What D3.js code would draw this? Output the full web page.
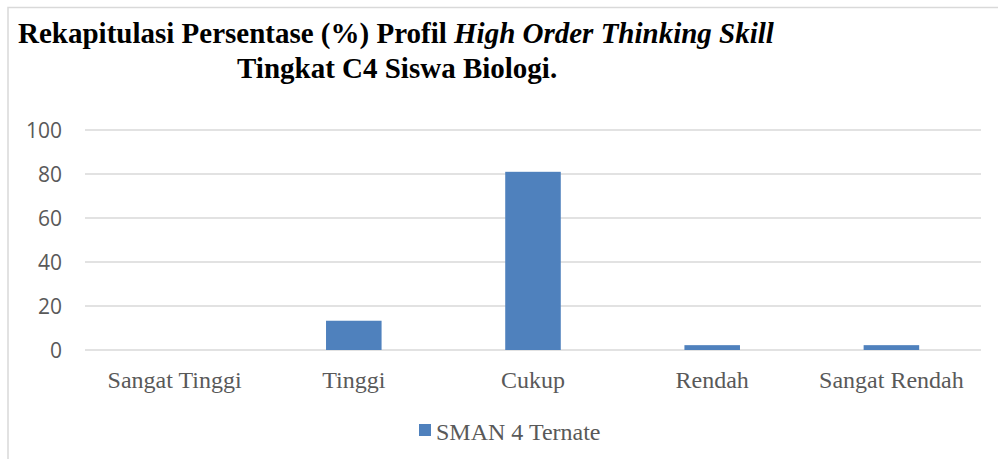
<!DOCTYPE html>
<html>
<head>
<meta charset="utf-8">
<script src="https://cdn.jsdelivr.net/npm/d3@7"></script>
<style>
  body { margin: 0; background: #fff; }
  svg { display: block; }
  .serif { font-family: "Times New Roman", "Liberation Serif", "DejaVu Serif", serif; }
</style>
</head>
<body>
<div class="chart"></div>
<script>
const categories = ['Sangat Tinggi', 'Tinggi', 'Cukup', 'Rendah', 'Sangat Rendah'];
const values = [0, 13.3, 81, 2.2, 2.2];
const yTicks = [0, 20, 40, 60, 80, 100];
const seriesName = 'SMAN 4 Ternate';

const width = 998;
const height = 459;
const margin = {top: 130, right: 17, bottom: 109, left: 85};

const svg = d3.select('.chart')
	.append('svg')
	.attr('width', width)
	.attr('height', height);

// outer frame (only left and top visible)
svg.append('path')
	.attr('d', `M8,${height} L8,7.5 L${width},7.5`)
	.attr('fill', 'none')
	.attr('stroke', '#d9d9d9')
	.attr('stroke-width', 1.5);

// title
const title = svg.append('text')
	.attr('class', 'serif')
	.attr('font-weight', 'bold')
	.attr('font-size', '29px')
	.attr('fill', '#000');
title.append('tspan').attr('x', 18).attr('y', 43).text('Rekapitulasi Persentase (%) Profil ');
title.append('tspan').attr('font-style', 'italic').text('High Order Thinking Skill');
svg.append('text')
	.attr('class', 'serif')
	.attr('x', 237).attr('y', 78)
	.attr('font-weight', 'bold')
	.attr('font-size', '29px')
	.attr('fill', '#000')
	.text('Tingkat C4 Siswa Biologi.');

const x = d3.scaleBand()
	.domain(categories)
	.range([margin.left, width - margin.right])
	.paddingInner(0.69)
	.paddingOuter(0.345);

const y = d3.scaleLinear()
	.domain([0, 100])
	.range([height - margin.bottom, margin.top]);

// gridlines
svg.selectAll('line.grid')
	.data(yTicks)
	.enter()
	.append('line')
	.attr('class', 'grid')
	.attr('x1', margin.left)
	.attr('x2', width - margin.right)
	.attr('y1', d => y(d))
	.attr('y2', d => y(d))
	.attr('stroke', '#d9d9d9')
	.attr('stroke-width', 1.5);

// y labels
svg.selectAll('text.ylab')
	.data(yTicks)
	.enter()
	.append('text')
	.attr('class', 'ylab')
	.attr('x', 62)
	.attr('y', d => y(d))
	.attr('dy', '0.36em')
	.attr('text-anchor', 'end')
	.attr('font-family', '"Open Sans", "Liberation Sans", sans-serif')
	.attr('font-size', '21px')
	.attr('fill', '#595959')
	.text(d => d);

// bars
svg.selectAll('rect.bar')
	.data(values)
	.enter()
	.append('rect')
	.attr('class', 'bar')
	.attr('x', (d, i) => x(categories[i]))
	.attr('y', d => y(d))
	.attr('width', x.bandwidth())
	.attr('height', d => y(0) - y(d))
	.attr('fill', '#4f81bd');

// x labels
svg.selectAll('text.xlab')
	.data(categories)
	.enter()
	.append('text')
	.attr('class', 'xlab serif')
	.attr('x', d => x(d) + x.bandwidth() / 2)
	.attr('y', 388)
	.attr('text-anchor', 'middle')
	.attr('font-size', '24px')
	.attr('fill', '#595959')
	.text(d => d);

// legend
svg.append('rect')
	.attr('x', 419)
	.attr('y', 424)
	.attr('width', 12)
	.attr('height', 12)
	.attr('fill', '#4f81bd');
svg.append('text')
	.attr('class', 'serif')
	.attr('x', 436)
	.attr('y', 440)
	.attr('font-size', '24px')
	.attr('fill', '#595959')
	.text(seriesName);
</script>
</body>
</html>
